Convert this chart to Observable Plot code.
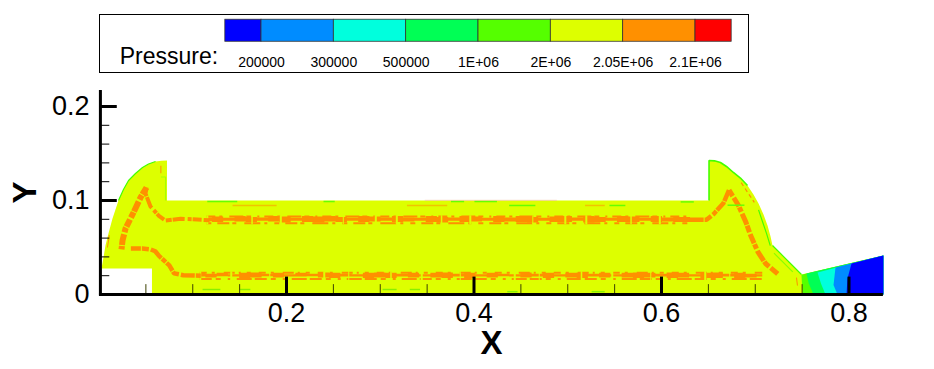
<!DOCTYPE html>
<html><head><meta charset="utf-8">
<style>html,body{margin:0;padding:0;background:#fff}svg{display:block}</style>
<script src="https://cdn.jsdelivr.net/npm/d3@7"></script>
<script src="https://cdn.jsdelivr.net/npm/@observablehq/plot@0.6"></script>
</head><body><div id="c"></div>
<script>
const FONT = "'Liberation Sans', Arial, sans-serif";
// Legend
const levelLabels = ["200000","300000","500000","1E+06","2E+06","2.05E+06","2.1E+06"];
const levelIndex = [0,1,2,3,4,5,6];
const binStart = [-0.5,0,1,2,3,4,5,6];
const binEnd   = [0,1,2,3,4,5,6,6.5];
const binColor = ["#0000ff","#008cff","#00ffdd","#00ff55","#55ff00","#ddff00","#ff9000","#ff0000"];
// Domain outline
const hullX = [.0027,.0048,.0069,.0101,.0144,.0208,.0261,.0315,.0389,.0464,.0528,.0603,.0667,.0725,.0725,.6507,.6507,.6565,.6629,.6693,.6767,.6842,.6917,.6981,.7035,.7088,.7131,.7163,.7184,.7493,.8367,.8367,.0565,.0565];
const hullY = [.0277,.0394,.0521,.0649,.0809,.1000,.1117,.1213,.1287,.1351,.1388,.1415,.1422,.1426,.1000,.1000,.1426,.1422,.1404,.1362,.1298,.1239,.1160,.1064,.0968,.0851,.0734,.0617,.0521,.0213,.0415,0,0,.0277];
// Nozzle contour fronts (painted left to right)
const limeX = [.7493,.7504,.8367,.8367,.7504], limeY = [.0213,.0213,.0415,0,0];
const greenX = [.7547,.7570,.7621,.8367,.8367], greenY = [.0224,.0120,0,0,.0415];
const cyanX = [.7664,.7700,.7749,.8367,.8367], cyanY = [.0234,.0120,0,0,.0415];
const azureX = [.7856,.7835,.7877,.8367,.8367], azureY = [.0287,.0100,0,0,.0415];
const blueX = [.8027,.7984,.7973,.8367,.8367], blueY = [.0330,.0170,0,0,.0415];
// Ragged orange bands
const topBandX = [.115,.127,.139,.151,.163,.175,.187,.199,.211,.223,
 .235,.247,.259,.271,.283,.295,.307,.319,.331,.343,
 .355,.367,.379,.391,.403,.415,.427,.439,.451,.463,
 .475,.487,.499,.511,.523,.535,.547,.559,.571,.583,
 .595,.607,.619,.631];
const topBandHi = [.0815,.0825,.081,.083,.082,.0815,.083,.0825,.081,.083,
 .0825,.083,.082,.081,.083,.0825,.0815,.083,.0815,.081,
 .083,.082,.0815,.083,.0825,.081,.083,.0815,.083,.082,
 .081,.0825,.083,.0815,.083,.082,.081,.083,.0825,.081,
 .083,.0815,.082,.082];
const topBandLo = [.0775,.0765,.078,.077,.0765,.078,.077,.076,.078,.0765,
 .076,.077,.0765,.078,.0765,.077,.078,.0765,.077,.078,
 .0765,.076,.078,.0765,.077,.078,.0765,.077,.0765,.076,
 .078,.0765,.0765,.078,.076,.0765,.078,.0765,.0765,.078,
 .0765,.077,.0765,.0765];
const lowBandX = [.108,.120,.132,.144,.156,.168,.180,.192,.204,.216,
 .228,.240,.252,.264,.276,.288,.300,.312,.324,.336,
 .348,.360,.372,.384,.396,.408,.420,.432,.444,.456,
 .468,.480,.492,.504,.516,.528,.540,.552,.564,.576,
 .588,.600,.612,.624,.636,.648,.660,.672,.684,.696,.708];
const lowBandHi = [.0225,.0215,.0225,.021,.0225,.023,.0215,.0225,.021,.0225,
 .0215,.023,.0225,.0215,.021,.0225,.023,.0225,.0215,.0225,
 .021,.0225,.023,.0215,.0225,.021,.0225,.0215,.021,.023,
 .0215,.0225,.021,.0225,.023,.0215,.0225,.021,.0225,.023,
 .0225,.0215,.023,.0225,.021,.0225,.023,.0215,.0225,.0215,.021];
const lowBandLo = [.0185,.0175,.019,.0185,.017,.0175,.019,.0175,.0185,.0185,
 .019,.0175,.017,.0185,.0185,.017,.0175,.017,.0185,.0175,
 .0185,.0175,.017,.0185,.017,.0185,.0175,.019,.0185,.0175,
 .0185,.017,.0185,.0175,.017,.0185,.0175,.0185,.0175,.017,
 .0175,.0185,.017,.0175,.0185,.017,.017,.0185,.017,.0175,.0185];
// Diagonal orange bands
const armLeftInX = [.118,.100,.087,.0709,.0635,.0549,.0496,.0507];
const armLeftInY = [.0790,.0800,.0805,.0787,.0840,.0936,.1075,.1138];
const armLeftOutX = [.0507,.0443,.0368,.0283,.0251,.0240];
const armLeftOutY = [.1138,.1032,.0872,.0702,.0574,.0480];
const armLeftLowX = [.034,.046,.055,.060,.064,.075,.080,.090,.110];
const armLeftLowY = [.0490,.0490,.0480,.0460,.0410,.0310,.0225,.0205,.0200];
const armRightUpX = [.630,.648,.656,.666,.672];
const armRightUpY = [.0795,.0795,.0860,.0970,.1110];
const armRightDownX = [.672,.682,.690,.695,.703,.711,.724];
const armRightDownY = [.1110,.0950,.0770,.0630,.0450,.0330,.0220];
// Thin streaks: x start, x end, height
const greenStreakA = [.116,.148,.240,.252,.376,.390,.401,.425,.438,.466,.545,.562,.621,.635,.671,.689];
const greenStreakY = [.0989,.0989,.0989,.0989,.0989,.0989,.0989,.0989,.0947,.0947,.0947,.0947,.0985,.0985,.0950,.0950];
const paleStreakA = [.143,.190,.329,.372,.519,.540];
const paleStreakY = [.0947,.0947,.0947,.0947,.0947,.0947];
const pinkStreakA = [.348,.489];
const floorA = [.111,.130,.151,.162,.303,.318,.332,.343,.436,.447,.526,.540];
const floorY = [.0053,.0053,.0053,.0053,.0053,.0053,.0053,.0053,.0030,.0030,.0030,.0030];
const edgeLeftX = [.0208,.0261,.0315,.0389,.0464,.0528,.0603], edgeLeftY = [.1000,.1117,.1213,.1287,.1351,.1388,.1415];
const edgeRightX = [.6507,.6507,.6565,.6629,.6693,.6767,.6842,.6917], edgeRightY = [.1000,.1426,.1422,.1404,.1362,.1298,.1239,.1160];
const edgeSlopeX = [.7184,.7493], edgeSlopeY = [.0521,.0213];
const innerRightX = [.7035,.7120,.7160], innerRightY = [.0900,.0650,.0520];
const innerSlopeX = [.7200,.7400], innerSlopeY = [.0440,.0240];
const orangeDashX = [.6850,.6990], orangeDashY = [.1190,.0980];
const orangeTickAX = [.0660,.0660], orangeTickAY = [.1370,.1290];
const orangeTickBX = [.0110,.0090], orangeTickBY = [.0630,.0500];
const orangeTickCX = [.7440,.7450], orangeTickCY = [.0180,.0095];
const innerLeftX = [.0660,.0710,.0710], innerLeftY = [.1250,.1250,.1000];
// Axis ticks
const majorX = [.2,.4,.6,.8];
const minorX = [.05,.1,.15,.25,.3,.35,.45,.5,.55,.65,.7,.75];
const majorY = [0,.1,.2];
const minorY = [.02,.04,.06,.08,.12,.14,.16,.18];

const xy = (xs, ys) => xs.map((x,i)=>({x, y: ys[i]}));
const poly = (xs, ys, fill) => Plot.line(xy(xs,ys), {x:"x", y:"y", fill, stroke:"none", curve:"linear"});
const path = (xs, ys, stroke, strokeWidth, extra={}) => Plot.line(xy(xs,ys), {x:"x", y:"y", stroke, strokeWidth, strokeLinecap:"butt", strokeLinejoin:"miter", ...extra});
const streaks = (xa, ya, stroke, strokeWidth, extra={}) => {
  const rows = [];
  for (let i=0;i<xa.length;i+=2) rows.push({x1:xa[i], x2:xa[i+1], y:ya[i]});
  return Plot.ruleY(rows, {y:"y", x1:"x1", x2:"x2", stroke, strokeWidth, ...extra});
};
const band = (xs, hi, lo) => Plot.areaY(xs.map((x,i)=>({x, hi:hi[i], lo:lo[i]})), {x:"x", y1:"hi", y2:"lo", fill:"#ff9000", curve:"step"});
const edgeTeeth = (xs, y, dash) => Plot.ruleY([y], {x1:xs[0], x2:xs[xs.length-1], stroke:"#ff9000", strokeWidth:2, strokeDasharray:dash});
const notches = (xs, y, dash) => Plot.ruleY([y], {x1:xs[0], x2:xs[xs.length-1], stroke:"#ddff00", strokeWidth:9, strokeDasharray:dash});
const OR = "#ff9000";

const legend = Plot.plot({
  width:934, height:78, marginLeft:99, marginRight:186, marginTop:14, marginBottom:6,
  style:{fontFamily:FONT, background:"#fff", color:"#000"},
  x:{domain:[0,6], range:[261,695], axis:null},
  y:{domain:[0,1], range:[72,14], axis:null},
  color:{type:"identity"},
  marks:[
    Plot.frame({stroke:"#000", strokeWidth:1}),
    Plot.rect(binColor.map((c,i)=>({c, a:binStart[i], b:binEnd[i]})), {x1:"a", x2:"b", y1:.53, y2:.91, fill:"c", stroke:"#333", strokeWidth:.8}),
    Plot.text(levelLabels, {x:(d,i)=>levelIndex[i], y:.17, text:d=>d, fontSize:14, fill:"#000"}),
    Plot.text(["Pressure:"], {x:-1.28, y:.27, text:d=>d, fontSize:23, fill:"#000"})
  ]
});

const chart = Plot.plot({
  width:934, height:291, marginLeft:99, marginRight:51, marginTop:12, marginBottom:75,
  style:{fontFamily:FONT, background:"#fff", color:"#000"},
  x:{domain:[0,.8], range:[98.5,848.5]},
  y:{domain:[0,.2], range:[216,28]},
  marks:[
    poly(hullX, hullY, "#ddff00"),
    poly(limeX, limeY, "#55ff00"),
    poly(greenX, greenY, "#00ff55"),
    poly(cyanX, cyanY, "#00ffdd"),
    poly(azureX, azureY, "#008cff"),
    poly(blueX, blueY, "#0000ff"),
    band(topBandX, topBandHi, topBandLo),
    band(lowBandX, lowBandHi, lowBandLo),
    edgeTeeth(topBandX, .0830, "9 4 3 7 14 3 5 6 2 5"),
    edgeTeeth(topBandX, .0758, "5 6 12 3 4 8 16 4 3 7"),
    edgeTeeth(lowBandX, .0232, "7 5 3 9 11 4 2 6 4 8"),
    edgeTeeth(lowBandX, .0165, "12 4 5 7 3 6 15 3"),
    notches(topBandX, .0795, "2 43 1.5 27 2 61 1 31 2 19"),
    notches(lowBandX, .0200, "1.5 29 2 37 1 53 2 23 1 41"),
    path(armLeftInX, armLeftInY, OR, 4, {strokeDasharray:"6 2 9 1 4 3 12 1"}),
    path(armLeftOutX, armLeftOutY, OR, 6, {strokeDasharray:"8 1 5 2 11 1 6 2"}),
    path(armLeftLowX, armLeftLowY, OR, 4.5, {strokeDasharray:"10 1 7 2 14 1 5 1"}),
    path(armRightUpX, armRightUpY, OR, 4.5, {strokeDasharray:"14 1 8 2 5 1 11 1"}),
    path(armRightDownX, armRightDownY, OR, 5, {strokeDasharray:"7 2 10 1 5 2 12 1"}),
    streaks(greenStreakA, greenStreakY, "#66ff00", 1.5),
    streaks(paleStreakA, paleStreakY, "#f0c400", 1.5),
    streaks(pinkStreakA, [.1002,.1002], "#f5b8a0", 1, {strokeOpacity:.6}),
    streaks(floorA, floorY, "#88f000", 1.5),
    path(edgeLeftX, edgeLeftY, "#44ff00", 1.2),
    path(edgeRightX, edgeRightY, "#44ff00", 1.6),
    path(edgeSlopeX, edgeSlopeY, "#44ff00", 1.2),
    path(innerRightX, innerRightY, "#44ff00", 1.2),
    path(innerSlopeX, innerSlopeY, "#88ff00", 1.2),
    path(innerLeftX, innerLeftY, "#a8ff00", 1.2),
    path(orangeDashX, orangeDashY, OR, 1.2, {strokeDasharray:"4 3"}),
    path(orangeTickAX, orangeTickAY, OR, 1),
    path(orangeTickBX, orangeTickBY, OR, 1),
    path(orangeTickCX, orangeTickCY, OR, 1),
    Plot.ruleX(minorX, {y1:0, y2:.0105, stroke:"#3c4000", strokeWidth:1}),
    Plot.ruleX(majorX, {y1:0, y2:.0185, stroke:"#000", strokeWidth:3}),
    Plot.ruleY(minorY, {x1:.0015, x2:.0115, stroke:"#000", strokeWidth:1}),
    Plot.ruleY(majorY, {x1:.0015, x2:.0195, stroke:"#000", strokeWidth:3}),
    Plot.ruleY([0], {x1:.0005, x2:.8367, stroke:"#000", strokeWidth:3}),
    Plot.ruleX([.0015], {y1:-.0015, y2:.217, stroke:"#000", strokeWidth:3}),
    Plot.axisX({anchor:"bottom", ticks:majorX, tickSize:0, tickPadding:8, fontSize:27, label:null, tickFormat:d=>d}),
    Plot.axisY({anchor:"left", ticks:majorY, tickSize:0, tickPadding:10, fontSize:27, label:null, tickFormat:d=>d}),
    Plot.text(["X"], {x:.4187, y:-.052, text:d=>d, fontSize:33, fontWeight:"bold", fill:"#000"}),
    Plot.text(["Y"], {x:-.0784, y:.1085, text:d=>d, fontSize:33, fontWeight:"bold", fill:"#000", rotate:-90})
  ]
});
document.getElementById("c").append(legend, chart);
</script></body></html>
